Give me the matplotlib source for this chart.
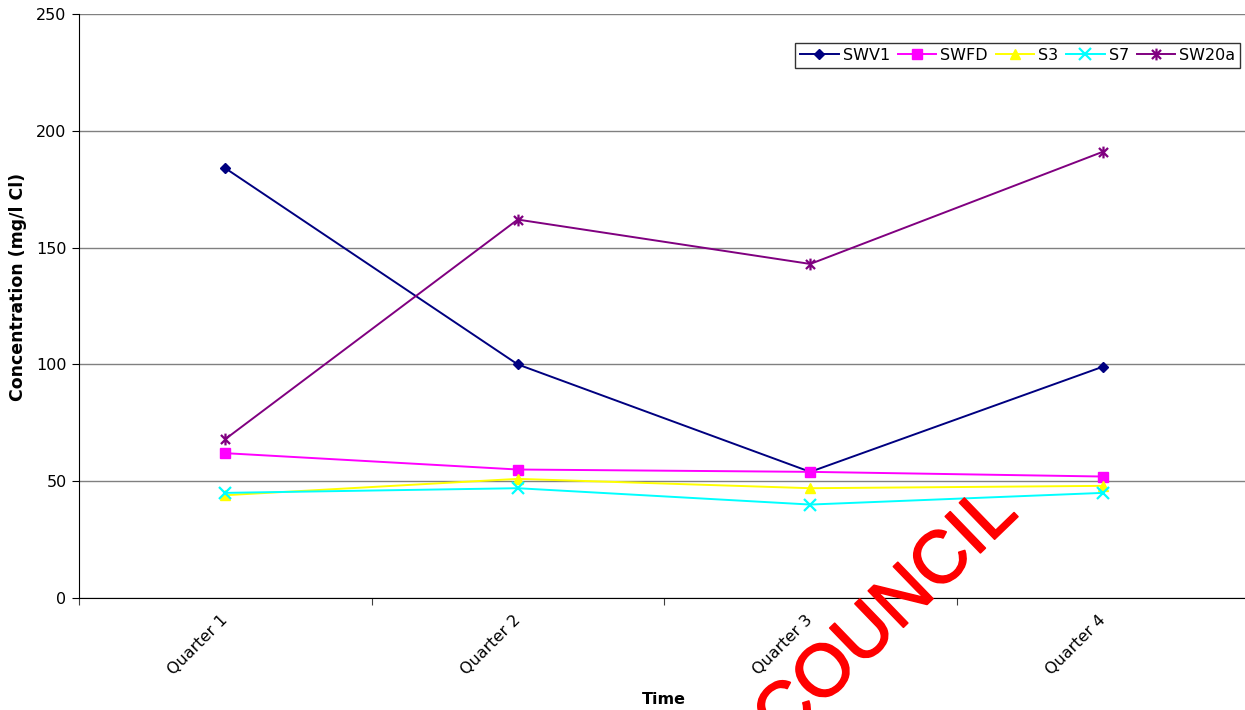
import matplotlib
matplotlib.use("Agg")
import matplotlib.pyplot as plt
import matplotlib.patheffects as pe
import numpy as np
from matplotlib.path import Path

quarters = ["Quarter 1", "Quarter 2", "Quarter 3", "Quarter 4"]
swv1 = [184, 100, 54, 99]
swfd = [62, 55, 54, 52]
s3 = [44, 51, 47, 48]
s7 = [45, 47, 40, 45]
sw20a = [68, 162, 143, 191]

# asterisk marker: an x with a vertical stroke through it
star = Path(
    [(-1, -1), (1, 1), (-1, 1), (1, -1), (0, -1.3), (0, 1.3)],
    [Path.MOVETO, Path.LINETO, Path.MOVETO, Path.LINETO, Path.MOVETO, Path.LINETO],
)

plt.rcParams["font.family"] = "DejaVu Sans"
fs = 11.5

fig = plt.figure(figsize=(12.45, 7.10), dpi=100)
ax = fig.add_axes([79 / 1245, 112 / 710, 1170 / 1245, 584 / 710])

x = np.arange(1, len(quarters) + 1)
series = [
    ("SWV1", swv1, "#000080", "D", 5.5, {}),
    ("SWFD", swfd, "#FF00FF", "s", 7.5, {}),
    ("S3", s3, "#FFFF00", "^", 7.5, {}),
    ("S7", s7, "#00FFFF", "x", 8, {"markeredgewidth": 1.6}),
    ("SW20a", sw20a, "#800080", star, 8.5, {"markeredgewidth": 1.6}),
]
for name, vals, col, mk, ms, extra in series:
    ax.plot(x, vals, color=col, lw=1.4, marker=mk, ms=ms,
            markerfacecolor=col, markeredgecolor=col, label=name, **extra)

ax.set_xlim(0.5, len(quarters) + 0.5)
ax.set_ylim(0, 250)
ax.set_yticks(np.arange(0, 251, 50))
ax.yaxis.grid(True, color="#808080", lw=1)
ax.set_axisbelow(True)

ax.set_xticks(np.arange(0.5, len(quarters) + 1, 1))
ax.set_xticklabels([])
ax.set_xticks(x, minor=True)
ax.set_xticklabels(quarters, minor=True, rotation=45, ha="right", va="center",
                   rotation_mode="anchor", fontsize=fs)
ax.tick_params(axis="x", which="minor", length=0, pad=14)
ax.tick_params(axis="x", which="major", length=5, direction="out", color="#404040")
ax.tick_params(axis="y", length=5, direction="out", labelsize=fs, pad=4)

for side in ("top", "right"):
    ax.spines[side].set_visible(False)
ax.spines["left"].set_color("black")
ax.spines["bottom"].set_color("black")

ax.set_ylabel("Concentration (mg/l Cl)", fontweight="bold", fontsize=12.5,
              va="center")
ax.yaxis.set_label_coords(-0.052, 0.5325)
ax.set_xlabel("Time", fontweight="bold", fontsize=fs, labelpad=10)

leg = ax.legend(ncol=5, loc="upper right", bbox_to_anchor=(0.9923, 0.950),
                fontsize=fs, frameon=True, fancybox=False, borderpad=0.3,
                handlelength=2.4, handletextpad=0.25, columnspacing=0.5,
                borderaxespad=0)
leg.get_frame().set_edgecolor("black")
leg.get_frame().set_linewidth(1)

fig.text(887 / 1245, 1 - 616 / 710, "COUNCIL", rotation=44, color="red",
         fontsize=53, family="Liberation Sans", ha="center", va="center",
         path_effects=[pe.withStroke(linewidth=1.2, foreground="red")])

fig.savefig("out.png", dpi=100)
